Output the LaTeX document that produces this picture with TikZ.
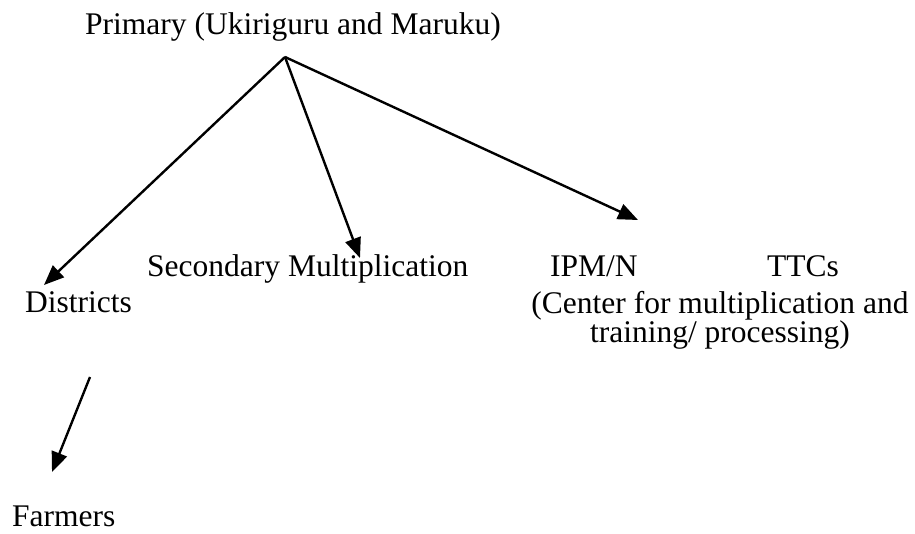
\documentclass[tikz,border=0pt]{standalone}
\usepackage{fontspec}
\setmainfont{Liberation Serif}
\usetikzlibrary{arrows.meta}
\begin{document}
\begin{tikzpicture}[x=1pt,y=-1pt,
  lbl/.style={inner sep=0pt,font=\fontsize{31.5}{29}\selectfont},
  arr/.style={line width=2.4pt,-{Triangle[length=20pt,width=16pt]}}]
\useasboundingbox (0,0) rectangle (915,534);
\node[lbl,anchor=base west] (prim) at (85,35) {Primary (Ukiriguru and Maruku)};
\node[lbl,anchor=base west] (sec) at (147,277) {Secondary Multiplication};
\node[lbl,anchor=base west] (dist) at (25,313) {Districts};
\node[lbl,anchor=base west] (ipm) at (550,277) {IPM/N};
\node[lbl,anchor=base west] (ttc) at (767,277) {TTCs};
\node[lbl,align=center] (cent) at (720,320) {(Center for multiplication and\\training/ processing)};
\node[lbl,anchor=base west] (farm) at (12,526) {Farmers};
\coordinate (apex) at (285,57);
\coordinate (t1) at (44,285);
\coordinate (t2) at (360,258);
\coordinate (t3) at (638,220);
\coordinate (fs) at (90,377);
\coordinate (ft) at (52,472);
\draw[arr] (apex) -- (t1);
\draw[arr] (apex) -- (t2);
\draw[arr] (apex) -- (t3);
\draw[arr] (fs) -- (ft);
\end{tikzpicture}
\end{document}
